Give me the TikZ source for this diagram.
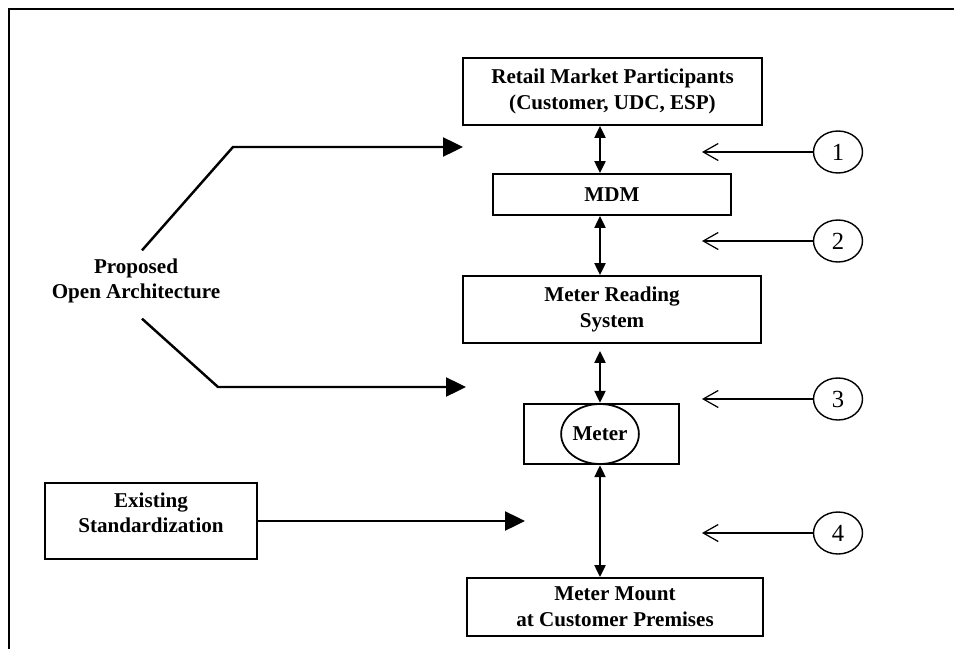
\documentclass[tikz,border=0pt]{standalone}
\usepackage{fontspec}
\setmainfont{Liberation Serif}
\usetikzlibrary{calc}
\usetikzlibrary{positioning}
\usetikzlibrary{shapes.geometric}
\usetikzlibrary{arrows.meta}

\tikzset{
    block/.style={rectangle, draw=black, line width=1.1pt, align=center, inner sep=0pt, font=\fontsize{12}{14.7}\selectfont\bfseries},
    num/.style={ellipse, draw=black, line width=0.8pt, minimum width=0.98cm, minimum height=0.84cm, inner sep=0pt, font=\fontsize{14}{16}\selectfont},
    dbl/.style={{Triangle[length=0.24cm,width=0.22cm]}-{Triangle[length=0.24cm,width=0.22cm]}, line width=1.3pt},
    bigarrow/.style={-{Triangle[length=0.4cm,width=0.38cm]}, line width=1.4pt},
    pointer/.style={-{Straight Barb[length=0.3cm,width=0.34cm]}, line width=0.7pt}
}

\begin{document}
\begin{tikzpicture}[x=0.02cm, y=-0.02cm]
    \useasboundingbox (0,0) rectangle (954,649);
    \draw [line width=1.7pt] (954,9) -- (9,9) -- (9,649);

    \node [block, minimum width=5.98cm, minimum height=1.34cm] (retail) at (612.5,91.5) {Retail Market Participants\\(Customer, UDC, ESP)};
    \node [block, minimum width=4.76cm, minimum height=0.82cm] (mdm) at (612,194.5) {MDM};
    \node [block, minimum width=5.96cm, minimum height=1.34cm] (reading) at (612,309.5) {Meter Reading\\System};
    \node [rectangle, draw=black, line width=1.4pt, minimum width=3.1cm, minimum height=1.2cm] (meterbox) at (601.5,434) {};
    \node [ellipse, draw=black, line width=1pt, minimum width=1.48cm, minimum height=1.2cm, inner sep=0pt, font=\fontsize{12}{14.7}\selectfont\bfseries] (meter) at (600,434) {Meter};
    \node [block, minimum width=5.92cm, minimum height=1.16cm] (mount) at (615,607) {Meter Mount\\at Customer Premises};
    \node [block, inner sep=0.19cm] (existing) at (151,521) {\parbox[c][1.14cm][t]{3.86cm}{\centering Existing\\Standardization}};
    \node [align=center, font=\fontsize{12}{14.7}\selectfont\bfseries] (proposed) at (136,281) {Proposed\\Open Architecture};

    % interfaces 1-4
    \foreach \n/\y in {1/152, 2/241, 3/399, 4/533} {
        \node [num] (c\n) at (838,\y) {\n};
        \coordinate (t\n) at (702,\y);
        \draw [pointer] (c\n) -- (t\n);
    }

    \draw [dbl] (retail.south -| meter) -- (mdm.north -| meter);
    \draw [dbl] (mdm.south -| meter) -- (reading.north -| meter);
    \draw [dbl, shorten <=0.14cm] (reading.south -| meter) -- (meterbox.north -| meter);
    \draw [dbl] (meterbox.south -| meter) -- (mount.north -| meter);

    \coordinate (upbend) at (233,147);
    \coordinate (uptip) at (463,147);
    \coordinate (lowbend) at (218,387);
    \coordinate (lowtip) at (466,387);
    \coordinate (stdtip) at (525,521);
    \draw [bigarrow] ([xshift=0.12cm, yshift=0.04cm]proposed.north) -- (upbend) -- (uptip);
    \draw [bigarrow] ([xshift=0.12cm, yshift=-0.18cm]proposed.south) -- (lowbend) -- (lowtip);
    \draw [bigarrow] (existing.east) -- (stdtip);
\end{tikzpicture}
\end{document}
